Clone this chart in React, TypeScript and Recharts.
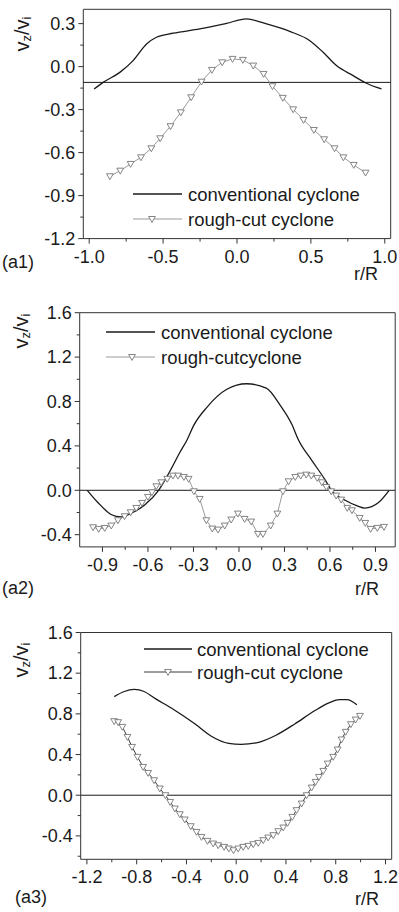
import React from 'react';
import { LineChart, Line, XAxis, YAxis, ReferenceLine, ReferenceArea } from 'recharts';

const FONT = '"Liberation Sans", Arial, Helvetica, sans-serif';
const INK = '#1a1a1a';
const AXIS = '#333';

// ---- (a1) ----
const a1ConvX = [-0.967, -0.906, -0.793, -0.703, -0.612, -0.545, -0.432, -0.252, -0.071, 0.064, 0.2, 0.357, 0.493, 0.583, 0.673, 0.786, 0.876, 0.978];
const a1ConvY = [-0.156, -0.11, -0.04, 0.042, 0.158, 0.205, 0.233, 0.263, 0.302, 0.333, 0.298, 0.246, 0.181, 0.1, 0.007, -0.063, -0.116, -0.156];
const a1RoughX = [-0.86, -0.79, -0.72, -0.65, -0.58, -0.52, -0.45, -0.38, -0.31, -0.24, -0.17, -0.1, -0.03, 0.04, 0.11, 0.18, 0.24, 0.31, 0.38, 0.45, 0.52, 0.59, 0.66, 0.72, 0.79, 0.87];
const a1RoughY = [-0.765, -0.726, -0.679, -0.633, -0.57, -0.5, -0.416, -0.319, -0.214, -0.105, -0.023, 0.03, 0.054, 0.047, 0.007, -0.051, -0.137, -0.218, -0.298, -0.372, -0.442, -0.507, -0.57, -0.633, -0.686, -0.74];
const a1XMajor = [-1, -0.5, 0, 0.5, 1];
const a1XMinor = [-0.75, -0.25, 0.25, 0.75];
const a1YMajor = [-1.2, -0.9, -0.6, -0.3, 0, 0.3];
const a1YMinor = [-1.05, -0.75, -0.45, -0.15, 0.15];

// ---- (a2) ----
const a2ConvX = [-1.0, -0.93, -0.84, -0.78, -0.7, -0.62, -0.53, -0.46, -0.39, -0.34, -0.3, -0.21, -0.08, 0.05, 0.18, 0.27, 0.35, 0.39, 0.48, 0.565, 0.61, 0.7, 0.78, 0.83, 0.92, 0.99];
const a2ConvY = [0.0, -0.11, -0.22, -0.24, -0.2, -0.13, 0.0, 0.16, 0.34, 0.46, 0.58, 0.75, 0.91, 0.96, 0.92, 0.77, 0.59, 0.46, 0.27, 0.1, 0.0, -0.09, -0.14, -0.16, -0.11, 0.0];
const a2RoughX = [-0.962, -0.925, -0.885, -0.842, -0.798, -0.754, -0.714, -0.677, -0.639, -0.6, -0.574, -0.545, -0.512, -0.473, -0.435, -0.402, -0.363, -0.332, -0.297, -0.259, -0.215, -0.176, -0.138, -0.094, -0.051, -0.007, 0.037, 0.081, 0.125, 0.158, 0.209, 0.253, 0.29, 0.327, 0.371, 0.407, 0.444, 0.477, 0.516, 0.547, 0.576, 0.608, 0.641, 0.674, 0.714, 0.745, 0.796, 0.833, 0.868, 0.912, 0.956];
const a2RoughY = [-0.333, -0.348, -0.339, -0.318, -0.27, -0.234, -0.198, -0.159, -0.114, -0.06, -0.018, 0.036, 0.072, 0.103, 0.132, 0.132, 0.12, 0.103, -0.009, -0.078, -0.27, -0.345, -0.354, -0.318, -0.264, -0.21, -0.258, -0.282, -0.393, -0.393, -0.318, -0.21, -0.009, 0.081, 0.12, 0.132, 0.141, 0.132, 0.111, 0.072, 0.03, -0.009, -0.048, -0.084, -0.159, -0.18, -0.249, -0.294, -0.348, -0.339, -0.33];
const a2XMajor = [-0.9, -0.6, -0.3, 0, 0.3, 0.6, 0.9];
const a2XMinor = [-0.75, -0.45, -0.15, 0.15, 0.45, 0.75];
const a2YMajor = [-0.4, 0, 0.4, 0.8, 1.2, 1.6];
const a2YMinor = [-0.2, 0.2, 0.6, 1.0, 1.4];

// ---- (a3) ----
const a3ConvX = [-0.98, -0.9, -0.82, -0.74, -0.65, -0.5, -0.33, -0.2, -0.06, 0.04, 0.18, 0.32, 0.47, 0.63, 0.75, 0.83, 0.89, 0.97];
const a3ConvY = [0.97, 1.02, 1.04, 1.02, 0.95, 0.84, 0.7, 0.58, 0.51, 0.5, 0.52, 0.59, 0.7, 0.83, 0.91, 0.94, 0.94, 0.89];
const a3RoughX = [-0.981, -0.949, -0.915, -0.874, -0.837, -0.794, -0.748, -0.708, -0.66, -0.614, -0.569, -0.531, -0.493, -0.453, -0.413, -0.365, -0.319, -0.279, -0.231, -0.185, -0.145, -0.097, -0.059, -0.022, 0.016, 0.056, 0.097, 0.137, 0.177, 0.217, 0.257, 0.298, 0.338, 0.378, 0.413, 0.451, 0.485, 0.526, 0.566, 0.606, 0.638, 0.665, 0.7, 0.735, 0.78, 0.815, 0.847, 0.88, 0.922, 0.96, 0.995];
const a3RoughY = [0.728, 0.718, 0.672, 0.573, 0.475, 0.377, 0.278, 0.219, 0.147, 0.066, 0.0, -0.066, -0.131, -0.187, -0.239, -0.305, -0.361, -0.41, -0.449, -0.475, -0.492, -0.508, -0.524, -0.541, -0.524, -0.508, -0.498, -0.482, -0.469, -0.442, -0.416, -0.393, -0.354, -0.318, -0.272, -0.213, -0.147, -0.082, 0.0, 0.075, 0.131, 0.18, 0.239, 0.311, 0.377, 0.449, 0.548, 0.623, 0.698, 0.744, 0.78];
const a3XMajor = [-1.2, -0.8, -0.4, 0, 0.4, 0.8, 1.2];
const a3XMinor = [-1.0, -0.6, -0.2, 0.2, 0.6, 1.0];
const a3YMajor = [-0.4, 0, 0.4, 0.8, 1.2, 1.6];
const a3YMinor = [-0.6, -0.2, 0.2, 0.6, 1.0, 1.4];

const toPts = (xs: number[], ys: number[]) => xs.map((x, i) => ({ x, y: ys[i] }));
const isMajor = (v: number, majors: number[]) => majors.some((m) => Math.abs(m - v) < 1e-6);
const byValue = (a: number, b: number) => a - b;

// label pos from recharts = axis - tickSize(5) - tickMargin(3)
const makeYTick = (majors: number[]) => (props: any) => {
  const { x, y, payload } = props;
  const ax = x + 8;
  const major = isMajor(payload.value, majors);
  return (
    <g>
      <line x1={ax} x2={ax - (major ? 5 : 3)} y1={y} y2={y} stroke={AXIS} strokeWidth={1} />
      {major && (
        <text x={x} y={y} dy="0.35em" textAnchor="end" fontSize={18} fontFamily={FONT} fill={INK}>
          {payload.value.toFixed(1)}
        </text>
      )}
    </g>
  );
};

const makeXTick = (majors: number[]) => (props: any) => {
  const { x, y, payload } = props;
  const ay = y - 8;
  const major = isMajor(payload.value, majors);
  return (
    <g>
      <line x1={x} x2={x} y1={ay} y2={ay + (major ? 5 : 3)} stroke={AXIS} strokeWidth={1} />
      {major && (
        <text x={x} y={y + 16} textAnchor="middle" fontSize={18} fontFamily={FONT} fill={INK}>
          {payload.value.toFixed(1)}
        </text>
      )}
    </g>
  );
};

const TriDot = (props: any) => {
  const { cx, cy, index } = props;
  if (cx == null || cy == null) return <g key={index} />;
  return (
    <path
      key={index}
      d={`M${cx - 3.4},${cy - 2.5}L${cx + 3.4},${cy - 2.5}L${cx},${cy + 3.4}Z`}
      fill="#fff"
      stroke="#777"
      strokeWidth={0.9}
    />
  );
};

type PanelProps = {
  top: number;
  height: number;
  margin: { top: number; right: number; left: number; bottom: number };
  yAxisWidth: number;
  xAxisHeight: number;
  xDomain: [number, number];
  yDomain: [number, number];
  xMajor: number[];
  xMinor: number[];
  yMajor: number[];
  yMinor: number[];
  conv: { x: number; y: number }[];
  rough: { x: number; y: number }[];
  refY: number;
  roughStroke: string;
};

const Panel: React.FC<PanelProps> = (p) => (
  <div style={{ position: 'absolute', left: 0, top: p.top }}>
    <LineChart width={399} height={p.height} margin={p.margin}>
      <XAxis
        type="number"
        dataKey="x"
        domain={p.xDomain}
        allowDataOverflow
        ticks={[...p.xMajor, ...p.xMinor].sort(byValue)}
        interval={0}
        height={p.xAxisHeight}
        axisLine={false}
        tickLine={false}
        tickSize={5}
        tickMargin={3}
        tick={makeXTick(p.xMajor)}
      />
      <YAxis
        type="number"
        domain={p.yDomain}
        allowDataOverflow
        ticks={[...p.yMajor, ...p.yMinor].sort(byValue)}
        interval={0}
        width={p.yAxisWidth}
        axisLine={false}
        tickLine={false}
        tickSize={5}
        tickMargin={3}
        tick={makeYTick(p.yMajor)}
      />
      {/* plot frame */}
      <ReferenceArea
        x1={p.xDomain[0]}
        x2={p.xDomain[1]}
        y1={p.yDomain[0]}
        y2={p.yDomain[1]}
        fill="none"
        stroke={AXIS}
        strokeWidth={1}
      />
      <ReferenceLine y={p.refY} stroke={INK} strokeWidth={1} />
      <Line data={p.conv} dataKey="y" type="monotone" stroke={INK} strokeWidth={1.3} dot={false} isAnimationActive={false} />
      <Line data={p.rough} dataKey="y" type="linear" stroke={p.roughStroke} strokeWidth={1} dot={TriDot} isAnimationActive={false} />
    </LineChart>
  </div>
);

const YLabel = ({ cx, cy }: { cx: number; cy: number }) => (
  <text transform={`translate(${cx},${cy}) rotate(-90)`} textAnchor="middle" dominantBaseline="central" fontSize={20} fill={INK}>
    v<tspan dy={4} fontSize={13}>z</tspan>
    <tspan dy={-4} fontSize={20}>/v</tspan>
    <tspan dy={4} fontSize={13}>i</tspan>
  </text>
);

const LegendRows = ({ x0, x1, tri, textX, y1, y2, roughStroke, second }: any) => (
  <g>
    <line x1={x0} x2={x1} y1={y1} y2={y1} stroke={INK} strokeWidth={1.3} />
    <text x={textX} y={y1} dominantBaseline="central" fontSize={18.5} fill={INK}>conventional cyclone</text>
    <line x1={x0} x2={x1} y1={y2} y2={y2} stroke={roughStroke} strokeWidth={1} />
    <path d={`M${tri - 3.4},${y2 - 2.5}L${tri + 3.4},${y2 - 2.5}L${tri},${y2 + 3.4}Z`} fill="#fff" stroke="#777" strokeWidth={0.9} />
    <text x={textX} y={y2} dominantBaseline="central" fontSize={18.5} fill={INK}>{second}</text>
  </g>
);

export default function App() {
  return (
    <div style={{ position: 'absolute', left: 0, top: 0, width: 399, height: 912, background: '#fff', fontFamily: FONT }}>
      <Panel
        top={0}
        height={290}
        margin={{ top: 9.3, right: 8.3, left: 0, bottom: 0 }}
        yAxisWidth={83.3}
        xAxisHeight={51.4}
        xDomain={[-1.04, 1.04]}
        yDomain={[-1.2, 0.4]}
        xMajor={a1XMajor}
        xMinor={a1XMinor}
        yMajor={a1YMajor}
        yMinor={a1YMinor}
        conv={toPts(a1ConvX, a1ConvY)}
        rough={toPts(a1RoughX, a1RoughY)}
        refY={-0.11}
        roughStroke="#9a9a9a"
      />
      <Panel
        top={300}
        height={300}
        margin={{ top: 12.7, right: 3.8, left: 0, bottom: 0 }}
        yAxisWidth={79.7}
        xAxisHeight={53.1}
        xDomain={[-1.05, 1.03]}
        yDomain={[-0.51, 1.6]}
        xMajor={a2XMajor}
        xMinor={a2XMinor}
        yMajor={a2YMajor}
        yMinor={a2YMinor}
        conv={toPts(a2ConvX, a2ConvY)}
        rough={toPts(a2RoughX, a2RoughY)}
        refY={0}
        roughStroke="#9a9a9a"
      />
      <Panel
        top={610}
        height={302}
        margin={{ top: 22.5, right: 7.3, left: 0, bottom: 0 }}
        yAxisWidth={80.7}
        xAxisHeight={52.7}
        xDomain={[-1.25, 1.25]}
        yDomain={[-0.63, 1.6]}
        xMajor={a3XMajor}
        xMinor={a3XMinor}
        yMajor={a3YMajor}
        yMinor={a3YMinor}
        conv={toPts(a3ConvX, a3ConvY)}
        rough={toPts(a3RoughX, a3RoughY)}
        refY={0}
        roughStroke="#3a3a3a"
      />
      <svg width={399} height={912} style={{ position: 'absolute', left: 0, top: 0, pointerEvents: 'none', fontFamily: FONT }}>
        <YLabel cx={22} cy={34} />
        <YLabel cx={21} cy={331} />
        <YLabel cx={21} cy={660} />

        <LegendRows x0={133} x1={182} tri={152} textX={188} y1={194} y2={219} roughStroke="#9a9a9a" second="rough-cut cyclone" />
        <LegendRows x0={106} x1={155} tri={132} textX={161} y1={332} y2={357} roughStroke="#9a9a9a" second="rough-cutcyclone" />
        <LegendRows x0={144} x1={192} tri={168} textX={197} y1={649} y2={672} roughStroke="#3a3a3a" second="rough-cut cyclone" />

        <text x={2} y={262} dominantBaseline="central" fontSize={18} fill={INK}>(a1)</text>
        <text x={366} y={274} textAnchor="middle" dominantBaseline="central" fontSize={18} fill={INK}>r/R</text>
        <text x={2} y={588} dominantBaseline="central" fontSize={18} fill={INK}>(a2)</text>
        <text x={367} y={589} textAnchor="middle" dominantBaseline="central" fontSize={18} fill={INK}>r/R</text>
        <text x={15} y={897} dominantBaseline="central" fontSize={18} fill={INK}>(a3)</text>
        <text x={367} y={899} textAnchor="middle" dominantBaseline="central" fontSize={18} fill={INK}>r/R</text>
      </svg>
    </div>
  );
}
